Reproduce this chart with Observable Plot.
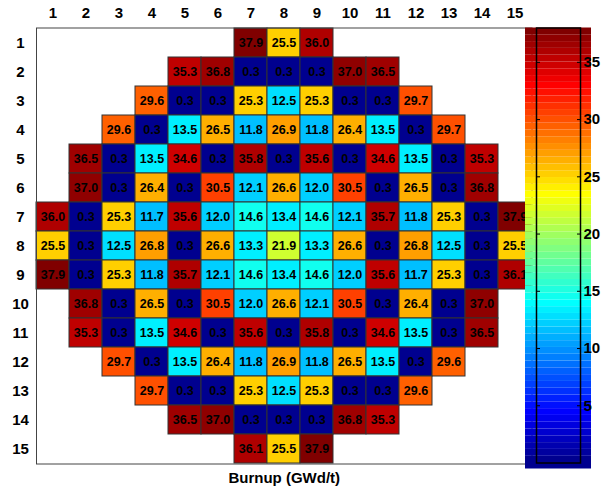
<!DOCTYPE html>
<html>
<head>
<meta charset="utf-8">
<script src="https://cdn.jsdelivr.net/npm/d3@7"></script>
<script src="https://cdn.jsdelivr.net/npm/@observablehq/plot@0.6"></script>
<style>
  html, body { margin: 0; padding: 0; background: #fff; }
  #wrap { position: relative; width: 602px; height: 493px; font-family: "Liberation Sans", Arial, sans-serif; }
  #wrap svg { position: absolute; top: 0; }
</style>
</head>
<body>
<div id="wrap"></div>
<script>
// Column / row tick labels
const colLabels = [1,2,3,4,5,6,7,8,9,10,11,12,13,14,15];
const rowLabels = [1,2,3,4,5,6,7,8,9,10,11,12,13,14,15];
// First occupied column of each row
const rowStart = [7,5,4,3,2,2,1,1,1,2,2,3,4,5,7];
// Burnup values (GWd/t), one array per row
const row1  = [37.9, 25.5, 36.0];
const row2  = [35.3, 36.8, 0.3, 0.3, 0.3, 37.0, 36.5];
const row3  = [29.6, 0.3, 0.3, 25.3, 12.5, 25.3, 0.3, 0.3, 29.7];
const row4  = [29.6, 0.3, 13.5, 26.5, 11.8, 26.9, 11.8, 26.4, 13.5, 0.3, 29.7];
const row5  = [36.5, 0.3, 13.5, 34.6, 0.3, 35.8, 0.3, 35.6, 0.3, 34.6, 13.5, 0.3, 35.3];
const row6  = [37.0, 0.3, 26.4, 0.3, 30.5, 12.1, 26.6, 12.0, 30.5, 0.3, 26.5, 0.3, 36.8];
const row7  = [36.0, 0.3, 25.3, 11.7, 35.6, 12.0, 14.6, 13.4, 14.6, 12.1, 35.7, 11.8, 25.3, 0.3, 37.9];
const row8  = [25.5, 0.3, 12.5, 26.8, 0.3, 26.6, 13.3, 21.9, 13.3, 26.6, 0.3, 26.8, 12.5, 0.3, 25.5];
const row9  = [37.9, 0.3, 25.3, 11.8, 35.7, 12.1, 14.6, 13.4, 14.6, 12.0, 35.6, 11.7, 25.3, 0.3, 36.1];
const row10 = [36.8, 0.3, 26.5, 0.3, 30.5, 12.0, 26.6, 12.1, 30.5, 0.3, 26.4, 0.3, 37.0];
const row11 = [35.3, 0.3, 13.5, 34.6, 0.3, 35.6, 0.3, 35.8, 0.3, 34.6, 13.5, 0.3, 36.5];
const row12 = [29.7, 0.3, 13.5, 26.4, 11.8, 26.9, 11.8, 26.5, 13.5, 0.3, 29.6];
const row13 = [29.7, 0.3, 0.3, 25.3, 12.5, 25.3, 0.3, 0.3, 29.6];
const row14 = [36.5, 37.0, 0.3, 0.3, 0.3, 36.8, 35.3];
const row15 = [36.1, 25.5, 37.9];
// Colour axis limits and colorbar ticks
const colorLimits = [0, 38];
const colorbarTicks = [5, 10, 15, 20, 25, 30, 35];
const xTitle = "Burnup (GWd/t)";

const rowsData = [row1,row2,row3,row4,row5,row6,row7,row8,row9,row10,row11,row12,row13,row14,row15];
const cells = [];
rowsData.forEach((vals, r) => vals.forEach((v, k) => cells.push({row: rowLabels[r], col: rowStart[r] + k, v})));

// MATLAB jet(64) colormap
function jetColors(m) {
  const n = Math.ceil(m / 4);
  const u = [];
  for (let i = 1; i <= n; i++) u.push(i / n);
  for (let i = 1; i < n; i++) u.push(1);
  for (let i = n; i >= 1; i--) u.push(i / n);
  const g0 = Math.ceil(n / 2) - (m % 4 === 1 ? 1 : 0);
  const J = Array.from({length: m}, () => [0, 0, 0]);
  u.forEach((val, k) => {
    const g = g0 + k + 1, r = g + n, b = g - n;
    if (r >= 1 && r <= m) J[r - 1][0] = val;
    if (g >= 1 && g <= m) J[g - 1][1] = val;
    if (b >= 1 && b <= m) J[b - 1][2] = val;
  });
  return J.map(([r, g, b]) => d3.rgb(r * 255, g * 255, b * 255).formatHex());
}
const jet = jetColors(64);
const jetInterp = t => jet[Math.max(0, Math.min(63, Math.floor(t * 64)))];
const colorScale = {type: "linear", domain: colorLimits, interpolate: jetInterp};

const font = '"Liberation Sans", Arial, Helvetica, sans-serif';

const main = Plot.plot({
  width: 602,
  height: 493,
  marginLeft: 36,
  marginRight: 70.5,
  marginTop: 27.5,
  marginBottom: 29.5,
  style: {fontFamily: font, fontSize: "15px", fontWeight: "bold", color: "black", background: "white"},
  x: {type: "band", domain: colLabels, padding: 0, axis: null},
  y: {type: "band", domain: rowLabels, padding: 0, axis: null},
  color: colorScale,
  marks: [
    Plot.cell(cells, {x: "col", y: "row", fill: "v", stroke: "#333", strokeWidth: 1, inset: 0}),
    Plot.text(cells, {x: "col", y: "row", text: d => d.v.toFixed(1), fill: "black", fontSize: 12.5, fontWeight: "bold"}),
    Plot.frame({stroke: "#444", strokeWidth: 1}),
    Plot.axisX({anchor: "top", tickSize: 0, tickPadding: 10, fontSize: 15, fontWeight: "bold", fill: "black", label: null}),
    Plot.axisY({anchor: "left", tickSize: 0, tickPadding: 16, textAnchor: "middle", fontSize: 15, fontWeight: "bold", fill: "black", label: null}),
    Plot.text([xTitle], {frameAnchor: "bottom", dy: 14, lineAnchor: "middle", fontSize: 15, fontWeight: "bold", fill: "black"})
  ]
});
main.style.left = "0px";

// Colorbar
const bands = d3.range(64).map(i => {
  const a = colorLimits[0] + i * (colorLimits[1] - colorLimits[0]) / 64;
  const b = colorLimits[0] + (i + 1) * (colorLimits[1] - colorLimits[0]) / 64;
  return {y1: a, y2: b, v: (a + b) / 2};
});
const bar = Plot.plot({
  width: 82,
  height: 493,
  marginLeft: 16,
  marginRight: 22,
  marginTop: 27.5,
  marginBottom: 30.5,
  style: {fontFamily: font, fontSize: "15px", fontWeight: "bold", color: "black", background: "transparent", overflow: "visible"},
  x: {axis: null},
  y: {domain: colorLimits, axis: null},
  color: colorScale,
  marks: [
    Plot.rect(bands.slice(0, 1), {y1: "y1", y2: "y2", fill: "v", insetLeft: -11, insetRight: -11, insetBottom: -6}),
    Plot.rect(bands, {y1: "y1", y2: "y2", fill: "v", insetLeft: -11, insetRight: -11}),
    Plot.frame({stroke: "black", strokeWidth: 1.5}),
    Plot.axisY(colorbarTicks, {anchor: "left", tickSize: -4, tickFormat: () => "", stroke: "black", label: null}),
    Plot.axisY(colorbarTicks, {anchor: "right", tickSize: -4, tickPadding: 7, stroke: "black", fill: "black", fontSize: 15, fontWeight: "bold", textAnchor: "start", label: null})
  ]
});
bar.style.left = "520px";

const wrap = document.getElementById("wrap");
wrap.appendChild(main);
wrap.appendChild(bar);
</script>
</body>
</html>
